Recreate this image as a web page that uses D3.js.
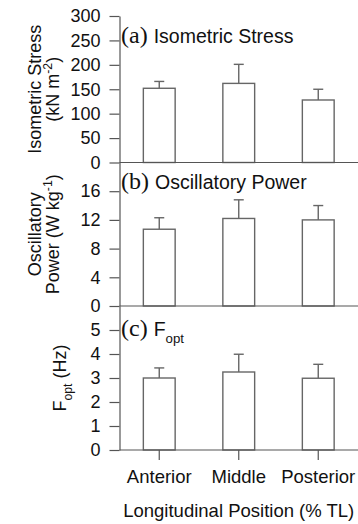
<!DOCTYPE html>
<html>
<head>
<meta charset="utf-8">
<script src="https://cdn.jsdelivr.net/npm/d3@7"></script>
<style>
  body { margin: 0; background: #fff; }
  svg { display: block; }
  text { font-family: "Liberation Sans", Arial, sans-serif; fill: #111; }
</style>
</head>
<body>
<div id="chart"></div>
<script>
// categories along the body
const positions = ["Anterior", "Middle", "Posterior"];

// (a) isometric stress, kN m^-2
const stressMean = [152, 162, 128];
const stressSD = [14, 39, 22];
const stressTicks = [0, 50, 100, 150, 200, 250, 300];

// (b) oscillatory power, W kg^-1
const powerMean = [10.7, 12.2, 12.0];
const powerSD = [1.6, 2.6, 2.0];
const powerTicks = [0, 4, 8, 12, 16];

// (c) optimal frequency, Hz
const foptMean = [3.0, 3.25, 2.99];
const foptSD = [0.42, 0.74, 0.58];
const foptTicks = [0, 1, 2, 3, 4, 5];

const width = 358, height = 524;
const left = 119.5, right = 358;
const lineColor = "#555";
const barColor = "#666";

const svg = d3.select("#chart").append("svg")
  .attr("width", width)
  .attr("height", height);

const x = d3.scaleBand()
  .domain(positions)
  .range([left, right])
  .paddingInner(0.6)
  .paddingOuter(0.3);

// writes a run of text pieces; sub/sup pieces are shifted and shrunk
function richText(sel, parts, size) {
  let shift = 0;
  parts.forEach(p => {
    let target = 0, fs = size, font = null;
    if (p.sub) { target = size * 0.35; fs = size * 0.68; }
    if (p.sup) { target = -size * 0.4; fs = size * 0.68; }
    if (p.serif) { font = "'Liberation Serif', 'Times New Roman', serif"; fs = p.size || size; }
    const ts = sel.append("tspan")
      .attr("dy", target - shift)
      .style("font-size", fs + "px")
      .text(p.t);
    if (font) ts.style("font-family", font);
    shift = target;
  });
}

const panels = [
  {
    top: 16, bottom: 162.5, domain: [0, 300], ticks: stressTicks,
    mean: stressMean, sd: stressSD, titleDy: 27,
    title: [{ t: "(a) ", serif: true, size: 24 }, { t: "Isometric Stress" }],
    ylabel: [
      [{ t: "Isometric Stress" }],
      [{ t: "(kN m" }, { t: "-2", sup: true }, { t: ")" }]
    ]
  },
  {
    top: 162.5, bottom: 306, domain: [0, 20], ticks: powerTicks,
    mean: powerMean, sd: powerSD, titleDy: 26.5,
    title: [{ t: "(b) ", serif: true, size: 24 }, { t: "Oscillatory Power" }],
    ylabel: [
      [{ t: "Oscillatory" }],
      [{ t: "Power (W kg" }, { t: "-1", sup: true }, { t: ")" }]
    ]
  },
  {
    top: 306, bottom: 450, domain: [0, 6], ticks: foptTicks,
    mean: foptMean, sd: foptSD, titleDy: 30,
    title: [{ t: "(c) ", serif: true, size: 24 }, { t: "F" }, { t: "opt", sub: true }],
    ylabel: [
      [{ t: "F" }, { t: "opt", sub: true }, { t: " (Hz)" }]
    ]
  }
];

panels.forEach((p, i) => {
  const y = d3.scaleLinear().domain(p.domain).range([p.bottom, p.top]);
  const g = svg.append("g");
  const rows = positions.map((c, j) => ({ cat: c, mean: p.mean[j], sd: p.sd[j] }));

  // error bars (upper only)
  const eb = g.selectAll(".err").data(rows).enter().append("g")
    .attr("stroke", barColor).attr("stroke-width", 1.4);
  eb.append("line")
    .attr("x1", d => x(d.cat) + x.bandwidth() / 2)
    .attr("x2", d => x(d.cat) + x.bandwidth() / 2)
    .attr("y1", d => y(d.mean))
    .attr("y2", d => y(d.mean + d.sd));
  eb.append("line")
    .attr("x1", d => x(d.cat) + x.bandwidth() / 2 - 5)
    .attr("x2", d => x(d.cat) + x.bandwidth() / 2 + 5)
    .attr("y1", d => y(d.mean + d.sd))
    .attr("y2", d => y(d.mean + d.sd));

  // bars
  g.selectAll(".bar").data(rows).enter().append("rect")
    .attr("x", d => x(d.cat))
    .attr("width", x.bandwidth())
    .attr("y", d => y(d.mean))
    .attr("height", d => y(0) - y(d.mean))
    .attr("fill", "#fff")
    .attr("stroke", barColor)
    .attr("stroke-width", 1.4);

  // baseline
  g.append("line")
    .attr("x1", left).attr("x2", right)
    .attr("y1", y(0)).attr("y2", y(0))
    .attr("stroke", lineColor).attr("stroke-width", 1.2);

  // y axis
  const ax = g.append("g")
    .attr("transform", `translate(${left},0)`)
    .call(d3.axisLeft(y).tickValues(p.ticks).tickFormat(d3.format("d"))
      .tickSize(10).tickSizeOuter(0).tickPadding(9));
  ax.select(".domain").attr("stroke", lineColor).attr("stroke-width", 1.2);
  ax.selectAll(".tick line").attr("stroke", lineColor).attr("stroke-width", 1.2);
  ax.selectAll(".tick text")
    .style("font-size", "18px")
    .style("font-family", "'Liberation Sans', Arial, sans-serif")
    .attr("fill", "#111");

  // panel title
  const t = g.append("text")
    .attr("x", 121)
    .attr("y", p.top + p.titleDy);
  richText(t, p.title, 19.5);

  // rotated y label
  const cy = (p.top + p.bottom) / 2;
  const n = p.ylabel.length;
  p.ylabel.forEach((line, k) => {
    const bx = n === 1 ? 66 : 41 + k * 18;
    const lt = g.append("text")
      .attr("transform", `translate(${bx},${cy}) rotate(-90)`)
      .attr("text-anchor", "middle");
    richText(lt, line, 18);
  });

  // category axis on the bottom panel only
  if (i === panels.length - 1) {
    const xa = svg.append("g")
      .attr("transform", `translate(0,${y(0)})`)
      .call(d3.axisBottom(x).tickSize(10).tickSizeOuter(0).tickPadding(10));
    xa.select(".domain").remove();
    xa.selectAll(".tick line").attr("stroke", lineColor).attr("stroke-width", 1.2);
    xa.selectAll(".tick text")
      .style("font-size", "18.5px")
      .style("font-family", "'Liberation Sans', Arial, sans-serif")
      .attr("fill", "#111");
  }
});

svg.append("text")
  .attr("x", (left + right) / 2)
  .attr("y", 517)
  .attr("text-anchor", "middle")
  .style("font-size", "18.5px")
  .text("Longitudinal Position (% TL)");
</script>
</body>
</html>
